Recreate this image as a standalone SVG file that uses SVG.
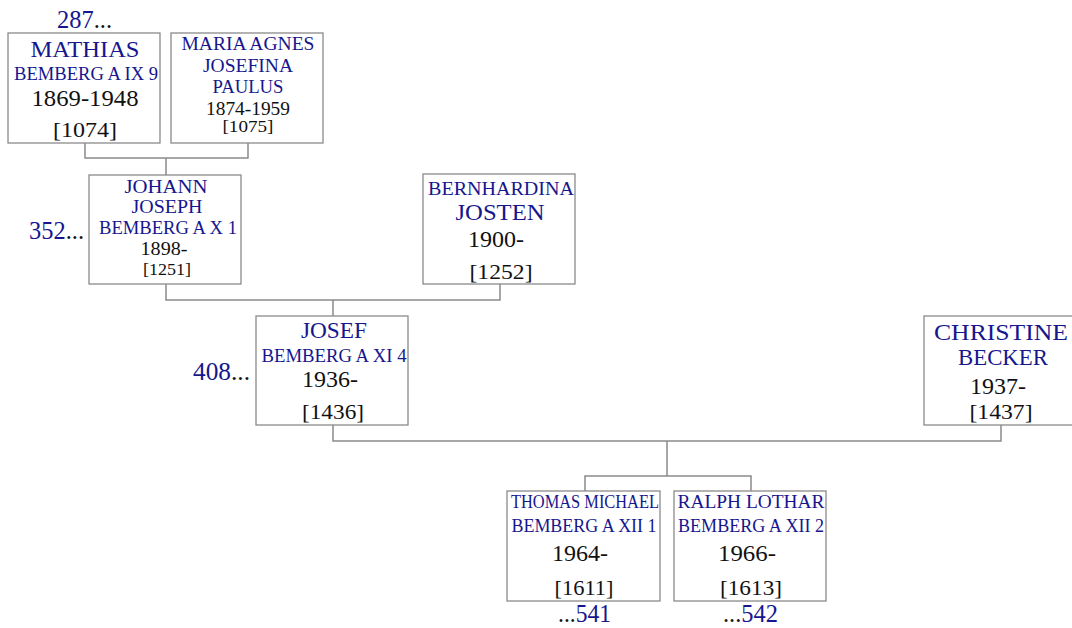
<svg xmlns="http://www.w3.org/2000/svg" width="1072" height="628" viewBox="0 0 1072 628">
<style>
.box{fill:#fff;stroke:#8a8a8a;stroke-width:1.3}
.ln{fill:none;stroke:#8a8a8a;stroke-width:1.5}
text{font-family:"Liberation Serif","DejaVu Serif",serif;text-anchor:middle}
.nb{fill:#16168e;font-size:23px}
.ns{fill:#16168e;font-size:18px}
.db{fill:#111;font-size:24px}
.ds{fill:#111;font-size:19px}
.ib{fill:#111;font-size:22px}
.is{fill:#111;font-size:17px}
.ref{fill:#16168e;font-size:25px}
.dot{fill:#111}
</style>
<rect width="1072" height="628" fill="#fff"/>
<g id="connectors">
<path class="ln" d="M85,143 V158 H248 V143 M166,158 V175"/>
<path class="ln" d="M166,284 V300 H500 V284 M333,300 V316"/>
<path class="ln" d="M333,425 V441 H1001 V425 M667,441 V476"/>
<path class="ln" d="M585,491 V476 H751 V491"/>
</g>
<g id="n1074">
<rect class="box" x="8" y="33" width="152" height="110"/>
<text class="nb" x="85" y="57" textLength="109" lengthAdjust="spacingAndGlyphs">MATHIAS</text>
<text class="ns" x="86" y="80" textLength="144" lengthAdjust="spacingAndGlyphs">BEMBERG A IX 9</text>
<text class="db" x="85" y="106" textLength="107" lengthAdjust="spacingAndGlyphs">1869-1948</text>
<text class="ib" x="85" y="137" textLength="64" lengthAdjust="spacingAndGlyphs">[1074]</text>
</g>
<g id="n1075">
<rect class="box" x="171" y="33" width="152" height="110"/>
<text class="ns" x="248" y="50" textLength="133" lengthAdjust="spacingAndGlyphs">MARIA AGNES</text>
<text class="ns" x="248" y="72" textLength="90" lengthAdjust="spacingAndGlyphs">JOSEFINA</text>
<text class="ns" x="248" y="93" textLength="71" lengthAdjust="spacingAndGlyphs">PAULUS</text>
<text class="ds" x="248" y="115" textLength="84" lengthAdjust="spacingAndGlyphs">1874-1959</text>
<text class="is" x="248" y="132" textLength="51" lengthAdjust="spacingAndGlyphs">[1075]</text>
</g>
<g id="n1251">
<rect class="box" x="89" y="175" width="152" height="109"/>
<text class="ns" x="166" y="193" textLength="83" lengthAdjust="spacingAndGlyphs">JOHANN</text>
<text class="ns" x="167" y="213" textLength="71" lengthAdjust="spacingAndGlyphs">JOSEPH</text>
<text class="ns" x="168" y="234" textLength="138" lengthAdjust="spacingAndGlyphs">BEMBERG A X 1</text>
<text class="ds" x="164" y="255" textLength="47" lengthAdjust="spacingAndGlyphs">1898-</text>
<text class="is" x="167" y="275" textLength="48" lengthAdjust="spacingAndGlyphs">[1251]</text>
</g>
<g id="n1252">
<rect class="box" x="423" y="174" width="152" height="110"/>
<text class="ns" x="501" y="195" textLength="146" lengthAdjust="spacingAndGlyphs">BERNHARDINA</text>
<text class="nb" x="500" y="220" textLength="89" lengthAdjust="spacingAndGlyphs">JOSTEN</text>
<text class="db" x="496" y="247" textLength="56" lengthAdjust="spacingAndGlyphs">1900-</text>
<text class="ib" x="501" y="279" textLength="63" lengthAdjust="spacingAndGlyphs">[1252]</text>
</g>
<g id="n1436">
<rect class="box" x="256" y="316" width="152" height="109"/>
<text class="nb" x="334" y="338" textLength="66" lengthAdjust="spacingAndGlyphs">JOSEF</text>
<text class="ns" x="334" y="362" textLength="145" lengthAdjust="spacingAndGlyphs">BEMBERG A XI 4</text>
<text class="db" x="330" y="387" textLength="56" lengthAdjust="spacingAndGlyphs">1936-</text>
<text class="ib" x="333" y="419" textLength="62" lengthAdjust="spacingAndGlyphs">[1436]</text>
</g>
<g id="n1437">
<rect class="box" x="924" y="316" width="152" height="109"/>
<text class="nb" x="1001" y="340" textLength="134" lengthAdjust="spacingAndGlyphs">CHRISTINE</text>
<text class="nb" x="1003" y="365" textLength="90" lengthAdjust="spacingAndGlyphs">BECKER</text>
<text class="db" x="998" y="394" textLength="56" lengthAdjust="spacingAndGlyphs">1937-</text>
<text class="ib" x="1001" y="419" textLength="63" lengthAdjust="spacingAndGlyphs">[1437]</text>
</g>
<g id="n1611">
<rect class="box" x="507" y="491" width="153" height="110"/>
<text class="ns" x="585" y="508" textLength="148" lengthAdjust="spacingAndGlyphs">THOMAS MICHAEL</text>
<text class="ns" x="584" y="532" textLength="145" lengthAdjust="spacingAndGlyphs">BEMBERG A XII 1</text>
<text class="db" x="580" y="561" textLength="56" lengthAdjust="spacingAndGlyphs">1964-</text>
<text class="ib" x="584" y="595" textLength="59" lengthAdjust="spacingAndGlyphs">[1611]</text>
</g>
<g id="n1613">
<rect class="box" x="674" y="491" width="152" height="110"/>
<text class="ns" x="751" y="508" textLength="147" lengthAdjust="spacingAndGlyphs">RALPH LOTHAR</text>
<text class="ns" x="751" y="532" textLength="146" lengthAdjust="spacingAndGlyphs">BEMBERG A XII 2</text>
<text class="db" x="747" y="561" textLength="58" lengthAdjust="spacingAndGlyphs">1966-</text>
<text class="ib" x="751" y="595" textLength="62" lengthAdjust="spacingAndGlyphs">[1613]</text>
</g>
<g id="refs">
<text class="ref" x="57" y="28" style="text-anchor:start" textLength="55" lengthAdjust="spacingAndGlyphs">287<tspan class="dot">...</tspan></text>
<text class="ref" x="29" y="239" style="text-anchor:start" textLength="55" lengthAdjust="spacingAndGlyphs">352<tspan class="dot">...</tspan></text>
<text class="ref" x="193" y="380" style="text-anchor:start" textLength="57" lengthAdjust="spacingAndGlyphs">408<tspan class="dot">...</tspan></text>
<text class="ref" x="558" y="622" style="text-anchor:start" textLength="53" lengthAdjust="spacingAndGlyphs"><tspan class="dot">...</tspan>541</text>
<text class="ref" x="723" y="622" style="text-anchor:start" textLength="55" lengthAdjust="spacingAndGlyphs"><tspan class="dot">...</tspan>542</text>
</g>
</svg>
